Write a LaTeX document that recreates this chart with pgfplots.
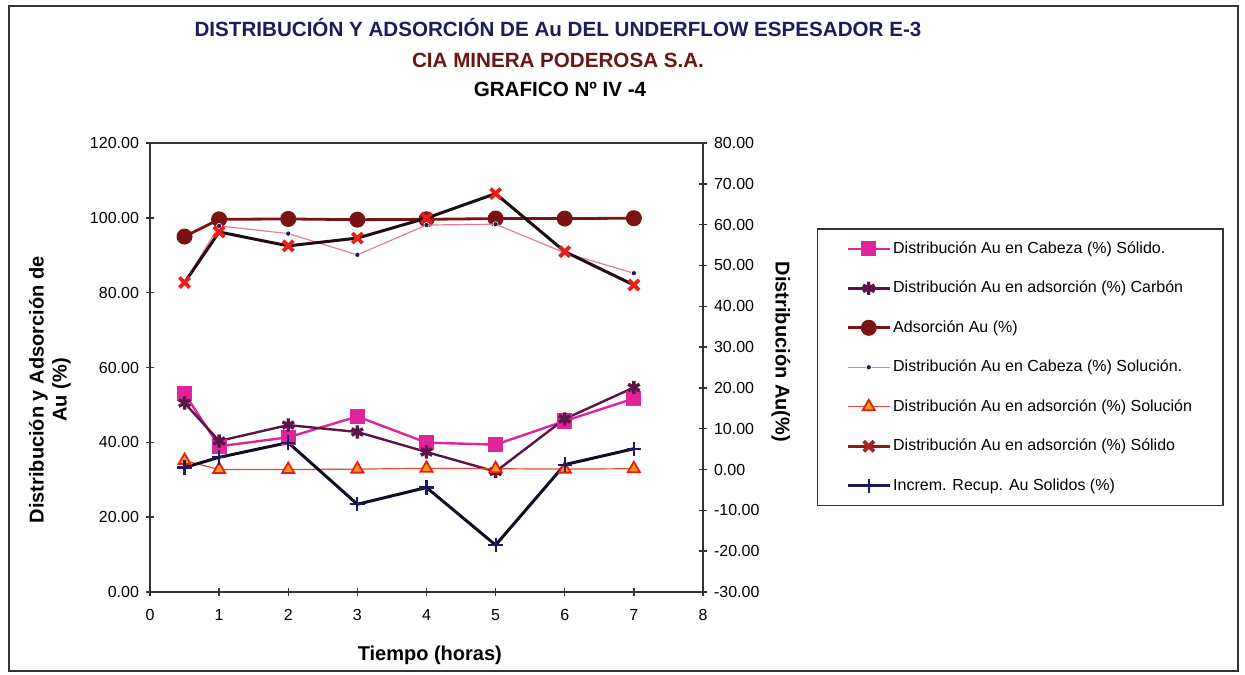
\documentclass[border=0pt]{standalone}
\usepackage{pgfplots}
\pgfplotsset{compat=1.18}
\usepackage{fontspec}
\setmainfont{Liberation Sans}
\definecolor{titlenavy}{HTML}{1C1C5E}
\definecolor{titlered}{HTML}{6B1616}
\definecolor{pinkS}{HTML}{E0249A}
\definecolor{purpleC}{HTML}{5A1448}
\definecolor{adsred}{HTML}{7A1414}
\definecolor{cabsol}{HTML}{E07E98}
\definecolor{navydot}{HTML}{1A1A50}
\definecolor{triline}{HTML}{E04A3A}
\definecolor{trifill}{HTML}{FF9A1E}
\definecolor{trdraw}{HTML}{E0200F}
\definecolor{xred}{HTML}{E8201A}
\definecolor{xline}{HTML}{1E0E0E}
\definecolor{xlegline}{HTML}{8A1C1C}
\definecolor{xlegmark}{HTML}{A82020}
\definecolor{incline}{HTML}{0E0E22}
\definecolor{inclegline}{HTML}{1A1A50}
\definecolor{incmark}{HTML}{1A1A66}
\definecolor{axisgray}{HTML}{333333}
\begin{document}
\begin{tikzpicture}[x=1pt,y=1pt]
\useasboundingbox (0,0) rectangle (622.5,337);
\draw[line width=1pt, axisgray] (4.5,1.5) rectangle (619,334);
\pgfplotsset{
  mybase/.style={
    at={(75pt,41pt)}, anchor=south west,
    scale only axis, width=276.5pt, height=224.5pt,
    xmin=0, xmax=8,
    axis line style={line width=1pt, axisgray},
    tick style={line width=0.7pt, axisgray},
    major tick length=4pt, tick align=center,
    tick label style={font=\fontsize{8}{9.5}\selectfont},
    /pgf/number format/assume math mode=true,
    yticklabel style={/pgf/number format/.cd, fixed, fixed zerofill, precision=2},
    label style={font=\bfseries\fontsize{10}{11.5}\selectfont},
  }
}
\begin{axis}[mybase,
  ymin=0, ymax=120, ytick={0,20,...,120},
  xtick={0,1,...,8}, xtick pos=left, ytick pos=left,
  xticklabel style={yshift=-3pt},
  xlabel={Tiempo (horas)},
  xlabel style={at={(axis description cs:0.506,-0.140)}, anchor=center},
  ylabel={Distribución y Adsorción de\\Au (\%)},
  ylabel style={at={(axis description cs:-0.181,0.45)}, anchor=center, align=center},
]
\addplot[color=adsred, line width=1.4pt, mark=*, mark size=3.3pt, mark options={fill=adsred, solid}]
  coordinates {(0.5,95.0) (1,99.6) (2,99.7) (3,99.5) (4,99.6) (5,99.8) (6,99.8) (7,99.9)};
\end{axis}
\begin{axis}[mybase,
  ymin=-30, ymax=80, ytick={-30,-20,...,80},
  axis x line=none, axis y line*=right,
  ylabel={Distribución Au(\%)},
  ylabel style={at={(axis description cs:1.141,0.535)}, anchor=center, rotate=180},
  legend cell align=left,
  legend image code/.code={\draw[mark repeat=2, mark phase=2, #1] plot coordinates {(0pt,0pt) (10.5pt,0pt) (21pt,0pt)};},
  legend style={at={(1.2056,0.810)}, anchor=north west, draw=axisgray, line width=0.7pt,
    font=\fontsize{8}{9.5}\selectfont, inner xsep=14.5pt, inner ysep=5pt, row sep=9.95pt,
    nodes={inner sep=1pt, text height=6pt, text depth=1.8pt},
    /tikz/every even column/.style={column sep=0pt}},
]
\addplot[color=pinkS, line width=1.2pt, mark=square*, mark size=3.2pt, mark options={fill=pinkS, solid}]
  coordinates {(0.5,18.6) (1,5.7) (2,7.9) (3,13.0) (4,6.6) (5,6.1) (6,11.9) (7,17.4)};
\addlegendentry{Distribución Au en Cabeza (\%) Sólido.}
\addplot[color=purpleC, line width=1.2pt, mark=asterisk, mark size=3.3pt, mark options={line width=1.7pt, solid}]
  coordinates {(0.5,16.3) (1,7.0) (2,10.9) (3,9.2) (4,4.3) (5,-0.5) (6,12.4) (7,20.1)};
\addlegendentry{Distribución Au en adsorción (\%) Carbón}
\addlegendimage{color=adsred, line width=1.4pt, mark=*, mark size=3.3pt, mark options={fill=adsred, solid}}
\addlegendentry{Adsorción Au (\%)}
\addplot[color=cabsol, line width=0.6pt, mark=*, mark size=1.3pt, mark options={fill=navydot, draw=white, line width=0.3pt, solid}]
  coordinates {(0.5,45.8) (1,59.7) (2,57.8) (3,52.6) (4,59.9) (5,60.1) (6,53.1) (7,48.1)};
\addlegendentry{Distribución Au en Cabeza (\%) Solución.}
\addplot[color=triline, line width=0.6pt, mark=triangle*, mark size=3.5pt, mark options={fill=trifill, draw=trdraw, line width=0.9pt, solid}]
  coordinates {(0.5,2.2) (1,0.0) (2,0.0) (3,0.1) (4,0.3) (5,0.2) (6,0.1) (7,0.2)};
\addlegendentry{Distribución Au en adsorción (\%) Solución}
\addplot[forget plot, color=xline, line width=1.5pt, mark=x, mark size=3.6pt, mark options={draw=xred, line width=1.9pt, solid}]
  coordinates {(0.5,45.8) (1,58.2) (2,54.8) (3,56.7) (4,61.6) (5,67.6) (6,53.4) (7,45.2)};
\addlegendimage{color=xlegline, line width=1.4pt, mark=x, mark size=3.6pt, mark options={draw=xlegmark, line width=1.9pt, solid}}
\addlegendentry{Distribución Au en adsorción (\%) Sólido}
\addplot[forget plot, color=incline, line width=1.5pt, mark=+, mark size=3.6pt, mark options={draw=incmark, line width=1.1pt, solid}]
  coordinates {(0.5,0.5) (1,3.0) (2,6.6) (3,-8.5) (4,-4.4) (5,-18.5) (6,1.2) (7,5.1)};
\addlegendimage{color=inclegline, line width=1.4pt, mark=+, mark size=3.6pt, mark options={draw=incmark, line width=1.1pt, solid}}
\addlegendentry{Increm. Recup.  Au Solidos (\%)}
\end{axis}
\node[anchor=base, font=\bfseries\fontsize{10.3}{12}\selectfont, text=titlenavy] at (279,318.5) {DISTRIBUCIÓN Y ADSORCIÓN DE Au DEL UNDERFLOW ESPESADOR E-3};
\node[anchor=base, font=\bfseries\fontsize{10.3}{12}\selectfont, text=titlered] at (279,303.3) {CIA MINERA PODEROSA S.A.};
\node[anchor=base, font=\bfseries\fontsize{10.3}{12}\selectfont, text=black] at (280,288.5) {GRAFICO Nº IV -4};
\end{tikzpicture}
\end{document}
